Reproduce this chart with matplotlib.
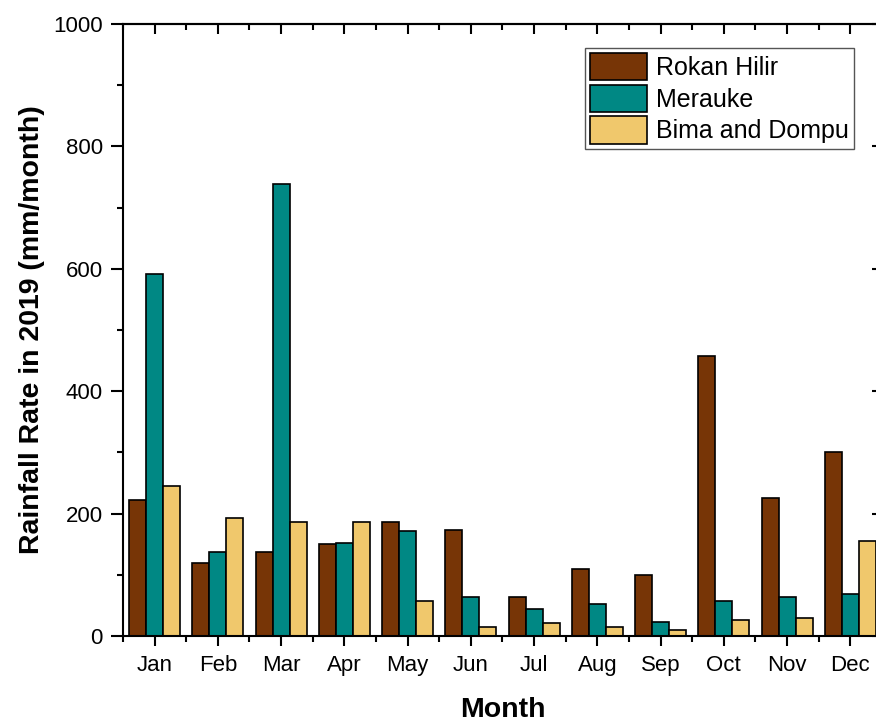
import matplotlib
matplotlib.use("Agg")
from matplotlib import pyplot
from matplotlib.ticker import MultipleLocator, FixedLocator, NullFormatter
import numpy

matplotlib.rcParams['font.family'] = ['Liberation Sans', 'DejaVu Sans']

months = ['Jan', 'Feb', 'Mar', 'Apr', 'May', 'Jun',
          'Jul', 'Aug', 'Sep', 'Oct', 'Nov', 'Dec']
rokan_hilir = [222, 120, 138, 150, 186, 173, 64, 109, 99, 458, 226, 301]
merauke = [591, 137, 738, 152, 172, 63, 44, 52, 23, 58, 63, 69]
bima_dompu = [245, 193, 186, 187, 57, 15, 22, 14, 10, 26, 30, 155]

series = [('Rokan Hilir', rokan_hilir, '#773506'),
          ('Merauke', merauke, '#008884'),
          ('Bima and Dompu', bima_dompu, '#f0c86c')]

fig = pyplot.figure(figsize=[8.76, 7.24], dpi=100)
ax = fig.add_axes([0.1404, 0.1215, 0.8664, 0.8453])

x = numpy.arange(len(months))
width = 0.268
for i, (name, values, color) in enumerate(series):
    ax.bar(x + (i - 1) * width, values, width, color=color,
           edgecolor='black', linewidth=1.2, label=name)

ax.set_xlim(-0.5, 11.5)
ax.set_ylim(0, 1000)
ax.set_xticks(x)
ax.set_xticklabels(months)
ax.xaxis.set_minor_locator(FixedLocator(numpy.arange(-0.5, 12, 1)))
ax.yaxis.set_major_locator(MultipleLocator(200))
ax.yaxis.set_minor_locator(MultipleLocator(100))

for s in ax.spines.values():
    s.set_linewidth(1.5)

ax.tick_params(which='major', direction='out', length=8.5, width=1.5,
               labelsize=16, pad=6)
ax.tick_params(axis='x', which='major', length=7.5, pad=6.5)
ax.tick_params(which='minor', direction='out', length=4.5, width=1.5)

top = ax.secondary_xaxis('top')
top.set_xticks(x)
top.xaxis.set_minor_locator(FixedLocator(numpy.arange(-0.5, 12, 1)))
top.xaxis.set_major_formatter(NullFormatter())
top.tick_params(which='major', direction='in', length=7, width=1.5)
top.tick_params(which='minor', direction='in', length=4, width=1.5)
top.spines['top'].set_linewidth(1.5)

right = ax.secondary_yaxis('right')
right.yaxis.set_major_locator(MultipleLocator(200))
right.yaxis.set_minor_locator(MultipleLocator(100))
right.yaxis.set_major_formatter(NullFormatter())
right.tick_params(which='major', direction='in', length=7, width=1.5)
right.tick_params(which='minor', direction='in', length=4, width=1.5)

ax.set_xlabel('Month', fontsize=20.5, fontweight='bold', labelpad=15)
ax.set_ylabel('Rainfall Rate in 2019 (mm/month)', fontsize=20.5,
              fontweight='bold', labelpad=6)

leg = ax.legend(loc='upper right', bbox_to_anchor=(0.963, 0.961),
                fontsize=18, handlelength=2.3, handleheight=1.3,
                labelspacing=0.18, borderpad=0.2, handletextpad=0.35,
                borderaxespad=0, fancybox=False, framealpha=1,
                edgecolor='#555555')
leg.get_frame().set_linewidth(1.0)

fig.savefig('out.png', dpi=100)
